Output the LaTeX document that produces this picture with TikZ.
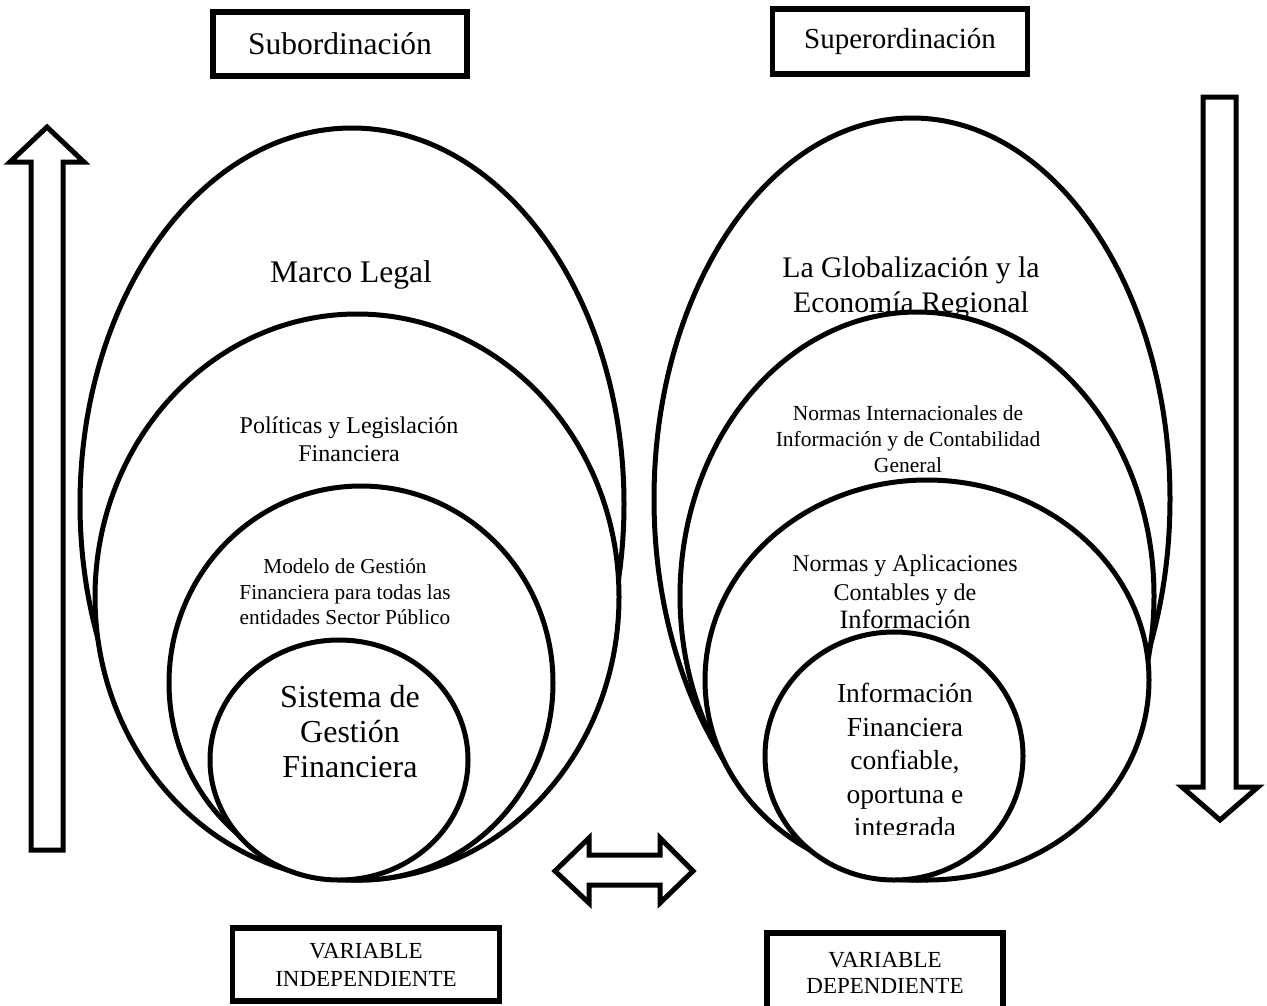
\documentclass[tikz,border=0pt]{standalone}
\usepackage{fontspec}
\setmainfont{Liberation Serif}
\usetikzlibrary{shapes.geometric}
\begin{document}
\begin{tikzpicture}[x=1pt,y=-1pt,
  oval/.style={draw, ellipse, fill=white, line width=5pt, inner sep=0pt},
  frame/.style={draw, line width=5.5pt, inner sep=0pt, align=center, fill=white},
  hollow/.style={draw, line width=5pt, fill=white, line join=miter},
  lbl/.style={align=center, inner sep=0pt}]
\useasboundingbox (0,0) rectangle (1267,1005);
\fill[white] (0,0) rectangle (1267,1005);

% headings
\node[frame, minimum width=254pt, minimum height=64pt,
      font=\fontsize{31.5}{36}\selectfont] (sub) at (340,44) {Subordinación};
\node[frame, minimum width=255pt, minimum height=65pt,
      font=\fontsize{29}{34}\selectfont] (sup) at (900,41.5) {Superordinación};

% vertical arrows
\draw[hollow] (31,850) -- (31,162) -- (10,162) -- (47,127) -- (84,162)
  -- (63,162) -- (63,850) -- cycle;
\draw[hollow] (1203,97) -- (1236,97) -- (1236,787) -- (1258,787)
  -- (1220,820) -- (1182,787) -- (1203,787) -- cycle;

% left nest of ellipses
\node[oval, minimum width=544pt, minimum height=752pt] (L1) at (352,504) {};
\node[lbl, font=\fontsize{31.5}{36}\selectfont] (tL1) at (351,275) {Marco Legal};
\node[oval, minimum width=524pt, minimum height=566pt] (L2) at (357,597) {};
\node[lbl, font=\fontsize{24}{28}\selectfont] (tL2) at (349,439)
  {Políticas y Legislación\\Financiera};
\node[oval, minimum width=384pt, minimum height=394pt] (L3) at (361,683) {};
\node[lbl, font=\fontsize{21.3}{25.5}\selectfont] (tL3) at (345,592)
  {Modelo de Gestión\\Financiera para todas las\\entidades Sector Público};
\node[oval, minimum width=258pt, minimum height=240pt] (L4) at (339,760) {};
\node[lbl, font=\fontsize{32}{35}\selectfont] (tL4) at (350,732)
  {Sistema de\\Gestión\\Financiera};

% right nest of ellipses
\node[oval, minimum width=516pt, minimum height=762pt] (R1) at (912,499) {};
\node[lbl, font=\fontsize{29.8}{35}\selectfont] (tR1) at (911,288)
  {La Globalización y la\\Economía Regional};
\node[oval, minimum width=474pt, minimum height=568pt] (R2) at (917,596) {};
\node[lbl, font=\fontsize{21.5}{26}\selectfont] (tR2) at (908,439)
  {Normas Internacionales de\\Información y de Contabilidad\\General};
\node[oval, minimum width=444pt, minimum height=400pt] (R3) at (927,680) {};
\node[lbl, font=\fontsize{24}{28.5}\selectfont] (tR3) at (905,592)
  {Normas y Aplicaciones\\Contables y de\\{\fontsize{26.5}{28.5}\selectfont Información}};
\node[oval, minimum width=258pt, minimum height=248pt] (R4) at (894,756) {};
\begin{scope}
  \clip (700,600) rectangle (1100,834);
  \node[lbl, font=\fontsize{27.5}{33.5}\selectfont] (tR4) at (905,763)
    {Información\\Financiera\\confiable,\\oportuna e\\integrada};
\end{scope}

% two-headed arrow between the nests
\draw[hollow] (555,871) -- (589,838) -- (589,855) -- (660,855) -- (660,838)
  -- (693,871) -- (660,903) -- (660,885) -- (589,885) -- (589,903) -- cycle;

% variable labels
\node[frame, minimum width=267pt, minimum height=73pt,
      font=\fontsize{23}{28}\selectfont] (vi) at (366,964.5)
  {VARIABLE\\INDEPENDIENTE};
\node[frame, minimum width=236pt, minimum height=80pt,
      font=\fontsize{23}{26}\selectfont] (vd) at (885,973)
  {VARIABLE\\DEPENDIENTE};
\end{tikzpicture}
\end{document}
